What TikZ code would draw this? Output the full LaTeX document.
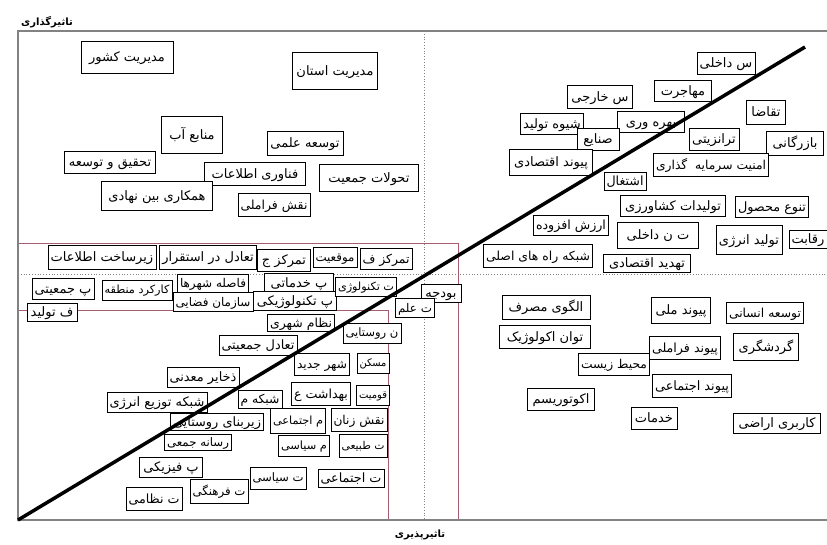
\documentclass[tikz,border=0pt]{standalone}
\usepackage{fontspec}
\usepackage{graphicx}
\newfontfamily\arabicfont[Script=Arabic]{DejaVu Sans}
\TeXXeTstate=1
\newsavebox\fabox
\newcommand\fitR[2]{\sbox\fabox{#2}\edef\faW{\the\wd\fabox}\pgfmathsetmacro\fasc{min((#1)/\faW,1.3)}\pgfmathsetmacro\fascy{min(1.45*\fasc,max(\fasc,1.05))}\smash{\scalebox{\fasc}[\fascy]{\raisebox{-3.4pt}{\usebox\fabox}}}}
\newcommand\bx[6][]{\node[box,#1,minimum width=#4pt,minimum height=#5pt] (#2) at (#3) {\fitR{#4pt-5pt}{#6}};}
\definecolor{axisgray}{RGB}{130,130,130}
\definecolor{rose}{RGB}{168,92,112}
\tikzset{
  box/.style={draw=black, line width=0.7pt, fill=white, inner sep=0pt, font=\arabicfont\fontsize{10}{12}\selectfont},
  axisline/.style={draw=axisgray, line width=1.4pt},
  dotline/.style={draw=axisgray, dotted, line width=0.8pt},
  redline/.style={draw=rose, line width=0.8pt},
  axislabel/.style={font=\arabicfont\bfseries\fontsize{10}{12}\selectfont, inner sep=0pt}
}
\begin{document}
\begin{tikzpicture}[x=1pt,y=-1pt]
\useasboundingbox (0,0) rectangle (827,544);
% frame coordinates
\coordinate (tl) at (18,31);
\coordinate (tr) at (827,31);
\coordinate (bl) at (18,520);
\coordinate (br) at (827,520);
\coordinate (vt) at (424,31);
\coordinate (vb) at (424,520);
\coordinate (hl) at (18,274);
\coordinate (hr) at (827,274);
\coordinate (ra1) at (18,243);
\coordinate (ra2) at (458,243);
\coordinate (ra3) at (458,520);
\coordinate (rb1) at (18,310);
\coordinate (rb2) at (388,310);
\coordinate (rb3) at (388,520);
% guide lines
\draw[dotline] (vt) -- (vb);
\draw[dotline] (hl) -- (hr);
\draw[redline] (ra1) -- (ra2) -- (ra3);
\draw[redline] (rb1) -- (rb2) -- (rb3);
\draw[axisline] (tr) -- (tl) -- (bl) -- (br);
% axis labels
\node[axislabel] (ylab) at (47,22) {\beginR تاثیرگذاری\endR};
\node[axislabel] (xlab) at (420,535) {\beginR تاثیرپذیری\endR};
% top-left quadrant
\bx{n1}{127,57}{92}{32}{\beginR مدیریت کشور\endR}
\bx{n2}{335,71}{85}{37}{\beginR مدیریت استان\endR}
\bx{n3}{192,135}{61}{37}{\beginR منابع آب\endR}
\bx{n4}{110,162}{91}{22}{\beginR تحقیق و توسعه\endR}
\bx{n6}{255,174}{101}{23}{\beginR فناوری اطلاعات\endR}
\bx{n5}{157,196}{111}{29}{\beginR همکاری بین نهادی\endR}
\bx{n7}{305,143}{76}{24}{\beginR توسعه علمی\endR}
\bx{n8}{369,178}{99}{27}{\beginR تحولات جمعیت\endR}
\bx{n9}{274,205}{72}{23}{\beginR نقش فراملی\endR}
% top-right quadrant
\bx{r1}{726,63}{58}{22}{\beginR س داخلی\endR}
\bx{r2}{683,91}{57}{21}{\beginR مهاجرت\endR}
\bx{r3}{600,97}{65}{23}{\beginR س خارجی\endR}
\bx{r4}{766,112}{39}{24}{\beginR تقاضا\endR}
\bx{r5}{552,124}{63}{21}{\beginR شیوه تولید\endR}
\bx{r6}{651,122}{67}{21}{\beginR بهره وری\endR}
\bx{r7}{598,139}{42}{22}{\beginR صنایع\endR}
\bx{r8}{714,139}{50}{22}{\beginR ترانزیتی\endR}
\bx{r9}{795,143}{57}{24}{\beginR بازرگانی\endR}
\bx{r10}{551,162}{83}{26}{\beginR پیوند اقتصادی\endR}
\bx{r11}{711,165}{115}{23}{\beginR امنیت سرمایه \ گذاری\endR}
\bx{r12}{625,181}{42}{18}{\beginR اشتغال\endR}
\bx{r13}{673,206}{105}{21}{\beginR تولیدات کشاورزی\endR}
\bx{r14}{772,207}{73}{21}{\beginR تنوع محصول\endR}
\bx{r15}{571,225}{75}{20}{\beginR ارزش افزوده\endR}
\bx{r16}{658,235}{81}{26}{\beginR ت ن داخلی\endR}
\bx{r17}{749,240}{66}{29}{\beginR تولید انرژی\endR}
\bx{r18}{808,239}{38}{18}{\beginR رقابت\endR}
\bx{r19}{538,256}{109}{23}{\beginR شبکه راه های اصلی\endR}
\bx{r20}{647,263}{87}{18}{\beginR تهدید اقتصادی\endR}
% middle band
\bx{m1}{102,257}{108}{24}{\beginR زیرساخت اطلاعات\endR}
\bx{m2}{208,257}{97}{24}{\beginR تعادل در استقرار\endR}
\bx{m3}{284,260}{53}{22}{\beginR تمرکز ج\endR}
\bx{m4}{335,257}{44}{20}{\beginR موقعیت\endR}
\bx{m5}{386,259}{52}{21}{\beginR تمرکز ف\endR}
\bx{m6}{63,289}{62}{21}{\beginR پ جمعیتی\endR}
\bx{m7}{137,290}{70}{20}{\beginR کارکرد منطقه\endR}
\bx{m8}{213,283}{71}{18}{\beginR فاصله شهرها\endR}
\bx{m9}{213,302}{80}{19}{\beginR سازمان فضایی\endR}
\bx{m10}{52,312}{50}{18}{\beginR ف تولید\endR}
\bx{m11}{299,283}{69}{19}{\beginR پ خدماتی\endR}
\bx{m12}{295,301}{83}{19}{\beginR پ تکنولوژیکی\endR}
\bx{m13}{366,287}{61}{19}{\beginR ت تکنولوژی\endR}
\bx{m14}{441,293}{40}{18}{\beginR بودجه\endR}
\bx{m15}{415,308}{39}{19}{\beginR ت علم\endR}
% bottom-left quadrant
\bx{l1}{301,323}{67}{17}{\beginR نظام شهری\endR}
\bx{l2}{372,333}{58}{20}{\beginR ن روستایی\endR}
\bx{l3}{258,345}{78}{20}{\beginR تعادل جمعیتی\endR}
\bx{l5}{322,364}{55}{22}{\beginR شهر جدید\endR}
\bx{l4}{373,363}{32}{20}{\beginR مسکن\endR}
\bx{l6}{203,377}{72}{20}{\beginR ذخایر معدنی\endR}
\bx{l8}{321,394}{59}{23}{\beginR بهداشت ع\endR}
\bx{l7}{373,395}{33}{20}{\beginR قومیت\endR}
\bx{l9}{157,402}{100}{20}{\beginR شبکه توزیع انرژی\endR}
\bx{l10}{260,399}{44}{18}{\beginR شبکه م\endR}
\bx{l11}{217,422}{93}{17}{\beginR زیربنای روستایی\endR}
\bx{l12}{298,421}{55}{25}{\beginR م اجتماعی\endR}
\bx{l13}{359,420}{56}{23}{\beginR نقش زنان\endR}
\bx{l14}{198,442}{67}{16}{\beginR رسانه جمعی\endR}
\bx{l15}{304,446}{51}{21}{\beginR م سیاسی\endR}
\bx{l16}{363,446}{48}{23}{\beginR ت طبیعی\endR}
\bx{l17}{171,467}{63}{20}{\beginR پ فیزیکی\endR}
\bx{l18}{278,478}{56}{22}{\beginR ت سیاسی\endR}
\bx{l19}{351,478}{66}{18}{\beginR ت اجتماعی\endR}
\bx{l20}{219,491}{58}{24}{\beginR ت فرهنگی\endR}
\bx{l21}{154,499}{56}{23}{\beginR ت نظامی\endR}
% bottom-right quadrant
\bx{b1}{546,307}{88}{24}{\beginR الگوی مصرف\endR}
\bx{b2}{681,310}{59}{26}{\beginR پیوند ملی\endR}
\bx{b3}{765,313}{77}{21}{\beginR توسعه انسانی\endR}
\bx{b4}{545,337}{91}{23}{\beginR توان اکولوژیک\endR}
\bx{b5}{685,348}{71}{23}{\beginR پیوند فراملی\endR}
\bx{b6}{766,347}{65}{27}{\beginR گردشگری\endR}
\bx{b7}{614,364}{71}{22}{\beginR محیط زیست\endR}
\bx{b8}{692,386}{79}{23}{\beginR پیوند اجتماعی\endR}
\bx{b9}{561,399}{67}{22}{\beginR اکوتوریسم\endR}
\bx{b10}{654,418}{46}{22}{\beginR خدمات\endR}
\bx{b11}{777,423}{87}{20}{\beginR کاربری اراضی\endR}
% diagonal
\coordinate (dstart) at (18,520);
\coordinate (dend) at (805,47);
\draw[line width=3.5pt] (dstart) -- (dend);
\end{tikzpicture}
\end{document}
